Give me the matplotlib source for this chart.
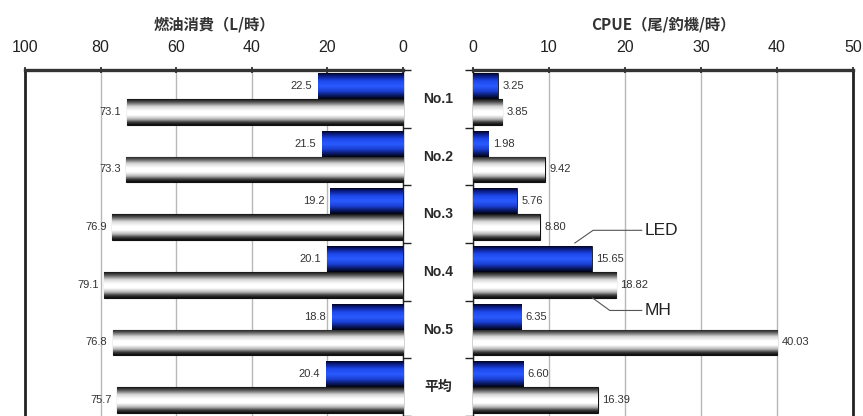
import numpy as np
import matplotlib
matplotlib.use("Agg")
import matplotlib.pyplot as plt
from matplotlib.colors import LinearSegmentedColormap

# ---- data ----
categories = ["No.1", "No.2", "No.3", "No.4", "No.5", "平均"]
fuel_led = [22.5, 21.5, 19.2, 20.1, 18.8, 20.4]
fuel_mh = [73.1, 73.3, 76.9, 79.1, 76.8, 75.7]
cpue_led = [3.25, 1.98, 5.76, 15.65, 6.35, 6.60]
cpue_mh = [3.85, 9.42, 8.80, 18.82, 40.03, 16.39]
fuel_ticks = [0, 20, 40, 60, 80, 100]
cpue_ticks = [0, 10, 20, 30, 40, 50]

NARROW = ["Liberation Sans Narrow", "Liberation Sans", "Noto Sans CJK JP"]
SANS = ["Liberation Sans", "Noto Sans CJK JP"]
CJK = ["Noto Sans CJK JP", "Liberation Sans"]

blue_cmap = LinearSegmentedColormap.from_list("cyl_blue", [
    (0.00, "#02041c"), (0.10, "#0a1a80"), (0.30, "#1d48ec"),
    (0.50, "#2a5bff"), (0.70, "#1a40d4"), (0.86, "#0a1a6c"), (1.00, "#01030f")])
white_cmap = LinearSegmentedColormap.from_list("cyl_white", [
    (0.00, "#141414"), (0.12, "#5a5a5a"), (0.28, "#d4d4d4"),
    (0.45, "#ffffff"), (0.62, "#ffffff"), (0.78, "#b4b4b4"),
    (0.90, "#3c3c3c"), (1.00, "#0c0c0c")])
grad = np.linspace(0, 1, 64).reshape(-1, 1)

BAR_H = 0.45
W, H = 863, 416
fig = plt.figure(figsize=(W / 100, H / 100), dpi=100)
fig.patch.set_facecolor("white")

ax_l = fig.add_axes([25 / W, 0, 378 / W, 346 / H])
ax_r = fig.add_axes([473 / W, 0, 380 / W, 346 / H])

y = np.arange(len(categories))


def shade(ax, bars, cmap):
    for b in bars:
        x0, y0 = b.get_x(), b.get_y()
        x1, y1 = x0 + b.get_width(), y0 + b.get_height()
        im = ax.imshow(grad, cmap=cmap, aspect="auto", origin="upper",
                       extent=(x0, x1, y1, y0), zorder=3, interpolation="bilinear")
        im.set_clip_path(b)


def style(ax, ticks, lim):
    ax.set_xlim(*lim)
    ax.set_ylim(len(categories) - 0.5, -0.5)
    ax.xaxis.tick_top()
    ax.set_xticks(ticks)
    ax.set_xticklabels([str(t) for t in ticks], fontfamily=SANS, fontsize=11.5,
                       color="#1a1a1a")
    ax.tick_params(axis="x", direction="inout", length=5, width=1.2, pad=8,
                   colors="#222222")
    ax.set_yticks([])
    ax.set_yticks(np.arange(-0.5, len(categories) + 0.5, 1), minor=True)
    ax.grid(axis="x", color="#b8b8b8", lw=1.0, zorder=0)
    ax.set_axisbelow(True)
    for s in ax.spines.values():
        s.set_color("#222222")
    ax.spines["bottom"].set_visible(False)
    ax.spines["top"].set_linewidth(2.4)
    ax.spines["top"].set_color("#333333")


# ---- left: fuel consumption ----
b1 = ax_l.barh(y - BAR_H / 2, fuel_led, height=BAR_H, color="#1d48ec",
               edgecolor="#111111", lw=0.6, zorder=2)
b2 = ax_l.barh(y + BAR_H / 2, fuel_mh, height=BAR_H, color="white",
               edgecolor="#111111", lw=0.8, zorder=2)
shade(ax_l, b1, blue_cmap)
shade(ax_l, b2, white_cmap)
style(ax_l, fuel_ticks, (100, 0))
ax_l.spines["left"].set_linewidth(2.0)
ax_l.spines["right"].set_linewidth(1.0)
ax_l.yaxis.set_ticks_position("right")
ax_l.tick_params(axis="y", which="minor", direction="out", length=6, width=1.0,
                 colors="#222222")
for i in y:
    ax_l.text(fuel_led[i] + 1.6, i - BAR_H / 2, f"{fuel_led[i]:.1f}", ha="right",
              va="center", fontsize=8, color="#333333", fontfamily=NARROW, zorder=5)
    ax_l.text(fuel_mh[i] + 1.4, i + BAR_H / 2, f"{fuel_mh[i]:.1f}", ha="right",
              va="center", fontsize=8, color="#333333", fontfamily=NARROW, zorder=5)

# ---- right: CPUE ----
c1 = ax_r.barh(y - BAR_H / 2, cpue_led, height=BAR_H, color="#1d48ec",
               edgecolor="#111111", lw=0.6, zorder=2)
c2 = ax_r.barh(y + BAR_H / 2, cpue_mh, height=BAR_H, color="white",
               edgecolor="#111111", lw=0.8, zorder=2)
shade(ax_r, c1, blue_cmap)
shade(ax_r, c2, white_cmap)
style(ax_r, cpue_ticks, (0, 50))
ax_r.spines["right"].set_linewidth(2.0)
ax_r.spines["left"].set_linewidth(1.0)
ax_r.yaxis.set_ticks_position("left")
ax_r.tick_params(axis="y", which="minor", direction="out", length=6, width=1.0,
                 colors="#222222")
for i in y:
    ax_r.text(cpue_led[i] + 0.6, i - BAR_H / 2, f"{cpue_led[i]:.2f}", ha="left",
              va="center", fontsize=8, color="#333333", fontfamily=NARROW, zorder=5)
    ax_r.text(cpue_mh[i] + 0.6, i + BAR_H / 2, f"{cpue_mh[i]:.2f}", ha="left",
              va="center", fontsize=8, color="#333333", fontfamily=NARROW, zorder=5)

# series callouts next to No.4
i4 = 3
ax_r.plot([13.4, 15.8, 22.2], [i4 - 0.5, i4 - 0.72, i4 - 0.72], color="#555555",
          lw=0.8, zorder=6)
ax_r.text(22.6, i4 - 0.72, "LED", ha="left", va="center", fontsize=12.5,
          color="#222222", fontfamily=SANS, zorder=6)
ax_r.plot([15.7, 18.0, 22.2], [i4 + 0.45, i4 + 0.67, i4 + 0.67], color="#555555",
          lw=0.8, zorder=6)
ax_r.text(22.6, i4 + 0.67, "MH", ha="left", va="center", fontsize=12.5,
          color="#222222", fontfamily=SANS, zorder=6)

# category names between the two panels
to_fig = fig.transFigure.inverted()
left_edge = to_fig.transform(ax_l.transAxes.transform((1, 0)))[0]
right_edge = to_fig.transform(ax_r.transAxes.transform((0, 0)))[0]
mid = (left_edge + right_edge) / 2
trans = matplotlib.transforms.blended_transform_factory(fig.transFigure, ax_l.transData)
for i, name in enumerate(categories):
    ax_l.text(mid, i, name, transform=trans, ha="center", va="center",
              fontsize=10, fontweight="bold", color="#2a2a2a",
              fontfamily=NARROW, clip_on=False)

# panel titles
ax_l.set_title("燃油消費（L/時）", fontfamily=CJK, fontsize=11, fontweight="bold",
               color="#333333", pad=29)
ax_r.set_title("CPUE（尾/釣機/時）", fontfamily=CJK, fontsize=11, fontweight="bold",
               color="#333333", pad=29)

fig.savefig("out.png", dpi=100, facecolor="white")
